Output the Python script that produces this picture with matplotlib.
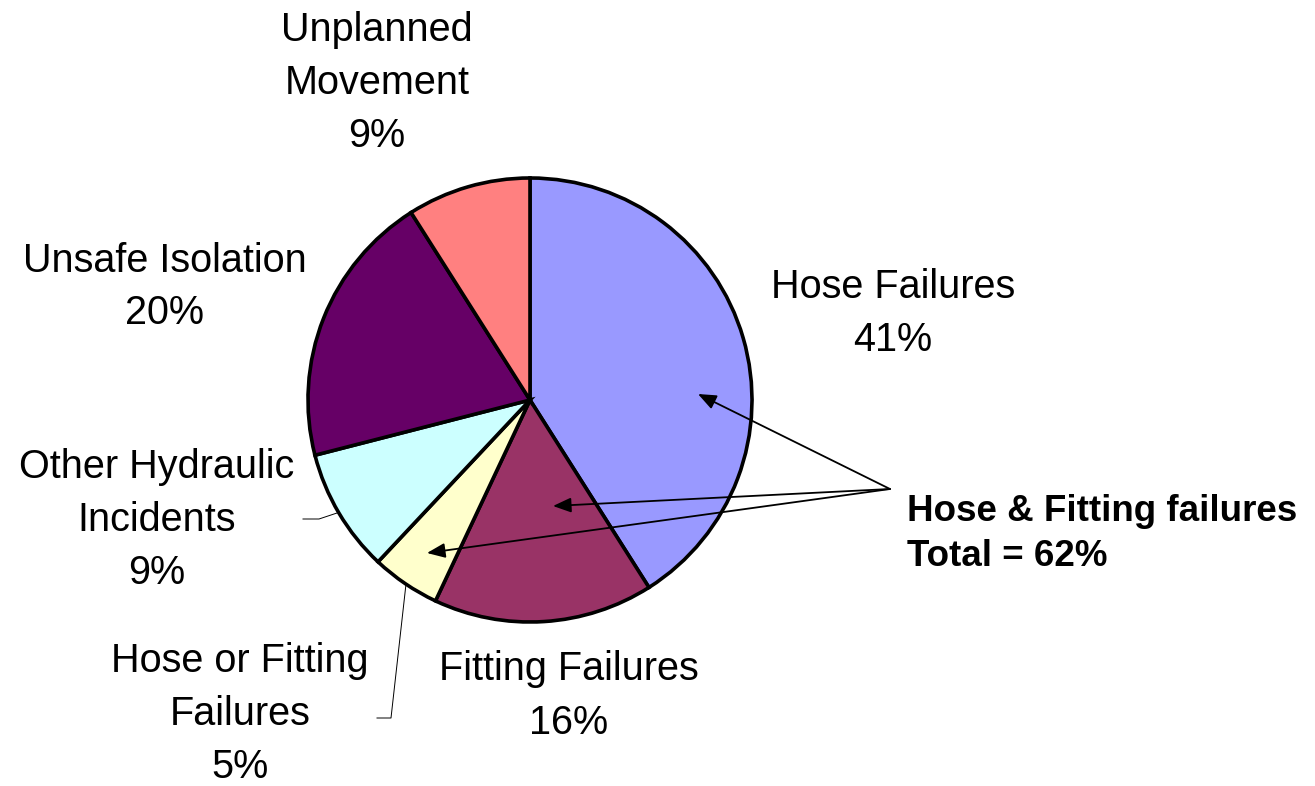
import matplotlib.pyplot as plt

# Données du graphique
categories = ['Hose Failures', 'Fitting Failures', 'Hose or Fitting\nFailures',
              'Other Hydraulic\nIncidents', 'Unsafe Isolation', 'Unplanned\nMovement']
valeurs = [41, 16, 5, 9, 20, 9]
couleurs = ['#9999FF', '#993366', '#FFFFCC', '#CCFFFF', '#660066', '#FF8080']

W, H = 1315, 786
CX, CY, R = 530, 400, 222  # centre et rayon du camembert en pixels


def px(x, y):
    # pixels de l'image -> coordonnées des données (rayon = 1)
    return (x - CX) / R, (CY - y) / R


plt.rcParams['font.family'] = ['Liberation Sans', 'DejaVu Sans']
fig = plt.figure(figsize=(W / 100, H / 100), dpi=100)
ax = fig.add_axes([0, 0, 1, 1])

ax.pie(valeurs, colors=couleurs, startangle=90, counterclock=False, radius=1,
       wedgeprops=dict(edgecolor='black', linewidth=2.6))
ax.set_aspect('auto')
ax.set_xlim(-CX / R, (W - CX) / R)
ax.set_ylim((CY - H) / R, CY / R)
ax.axis('off')

# Étiquettes
taille = 28.5
etiquettes = [
    (893, 314, 'Hose Failures\n41%'),
    (569, 696, 'Fitting Failures\n16%'),
    (240, 714, 'Hose or Fitting\nFailures\n5%'),
    (157, 520, 'Other Hydraulic\nIncidents\n9%'),
    (165, 287, 'Unsafe Isolation\n20%'),
    (377, 83, 'Unplanned\nMovement\n9%'),
]
for x, y, t in etiquettes:
    ax.text(*px(x, y), t, ha='center', va='center', fontsize=taille, linespacing=1.5)

# Lignes de rappel
ax.plot(*zip(px(303, 519), px(319, 519), px(337, 513)), color='black', lw=0.7)
ax.plot(*zip(px(377, 718), px(391, 718), px(406, 584)), color='black', lw=0.7)

# Texte en gras avec flèches
ax.text(*px(907, 534), 'Hose & Fitting failures\nTotal = 62%', ha='left', va='center',
        fontsize=26.5, fontweight='bold', linespacing=1.34)
origine = px(890, 489)
for cible in [px(698, 394), px(553, 506), px(427, 553)]:
    ax.annotate('', xy=cible, xytext=origine,
                arrowprops=dict(arrowstyle='-|>,head_length=1.1,head_width=0.45',
                                color='black', lw=1.3, shrinkA=0, shrinkB=0))

plt.savefig('out.png', dpi=100)
plt.close()
